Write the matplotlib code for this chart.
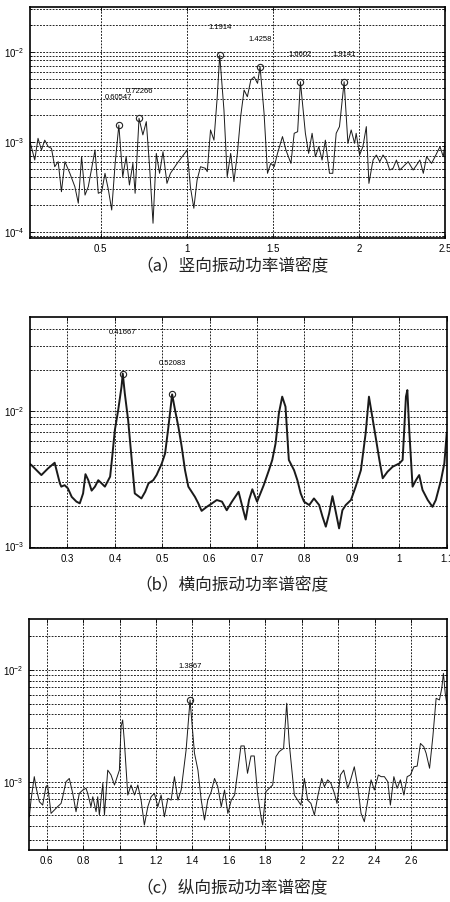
import matplotlib
matplotlib.use("Agg")
import matplotlib.pyplot as plt
from matplotlib.ticker import LogLocator, FixedLocator, NullFormatter, LogFormatterMathtext

plt.rcParams['font.family'] = ['Liberation Sans', 'DejaVu Sans']

# (a) vertical PSD
a_f = [0.0894, 0.117, 0.136, 0.156, 0.175, 0.195, 0.214, 0.233, 0.253, 0.272, 0.292, 0.321,
       0.350, 0.370, 0.389, 0.409, 0.428, 0.467, 0.486, 0.506, 0.525, 0.545, 0.564, 0.584,
       0.60547, 0.628, 0.648, 0.667, 0.687, 0.700, 0.72266, 0.745, 0.765, 0.784, 0.804, 0.823,
       0.842, 0.862, 0.885, 0.905, 0.944, 1.002, 1.021, 1.041, 1.060, 1.080, 1.109, 1.119,
       1.138, 1.158, 1.177, 1.1914, 1.216, 1.235, 1.255, 1.274, 1.294, 1.313, 1.333, 1.352,
       1.372, 1.391, 1.411, 1.4258, 1.449, 1.469, 1.488, 1.508, 1.527, 1.556, 1.576, 1.605,
       1.624, 1.644, 1.6602, 1.689, 1.708, 1.728, 1.747, 1.767, 1.786, 1.805, 1.829, 1.848,
       1.868, 1.887, 1.9141, 1.936, 1.955, 1.975, 1.984, 2.004, 2.023, 2.043, 2.058, 2.082,
       2.101, 2.121, 2.140, 2.160, 2.179, 2.198, 2.218, 2.237, 2.257, 2.286, 2.315, 2.335,
       2.354, 2.374, 2.393, 2.422, 2.442, 2.471, 2.490, 2.50]
a_p = [1.00e-3, 6.25e-4, 1.09e-3, 8.07e-4, 1.04e-3, 8.80e-4, 8.43e-4, 5.27e-4, 6.00e-4, 2.78e-4,
       6.00e-4, 4.45e-4, 3.16e-4, 2.07e-4, 6.81e-4, 2.55e-4, 3.16e-4, 8.07e-4, 2.67e-4, 2.78e-4,
       4.45e-4, 2.90e-4, 1.74e-4, 5.74e-4, 1.53e-3, 4.08e-4, 6.81e-4, 3.30e-4, 5.74e-4, 2.67e-4,
       1.82e-3, 1.19e-3, 1.67e-3, 5.27e-4, 1.24e-4, 7.41e-4, 4.45e-4, 7.74e-4, 3.44e-4, 4.45e-4,
       5.74e-4, 8.07e-4, 3.16e-4, 1.82e-4, 3.75e-4, 5.27e-4, 5.05e-4, 4.64e-4, 1.35e-3, 1.04e-3,
       3.16e-3, 9.18e-3, 2.25e-3, 4.08e-4, 7.41e-4, 3.60e-4, 7.41e-4, 1.90e-3, 3.75e-3, 3.16e-3,
       4.84e-3, 5.27e-3, 4.45e-3, 6.81e-3, 2.07e-3, 4.45e-4, 5.74e-4, 5.27e-4, 7.41e-4, 1.14e-3,
       8.07e-4, 5.74e-4, 1.24e-3, 1.29e-3, 4.64e-3, 1.24e-3, 7.41e-4, 1.24e-3, 6.81e-4, 8.80e-4,
       6.25e-4, 1.04e-3, 4.45e-4, 4.45e-4, 1.24e-3, 1.47e-3, 4.64e-3, 9.58e-4, 1.35e-3, 9.58e-4,
       1.24e-3, 7.11e-4, 8.80e-4, 1.47e-3, 3.44e-4, 6.25e-4, 7.11e-4, 6.00e-4, 7.11e-4, 6.25e-4,
       4.84e-4, 5.05e-4, 6.25e-4, 4.84e-4, 5.27e-4, 6.00e-4, 4.84e-4, 5.50e-4, 6.25e-4, 4.45e-4,
       6.81e-4, 5.74e-4, 6.81e-4, 8.80e-4, 6.81e-4, 9.58e-4]
a_peaks = [0.60547, 0.72266, 1.1914, 1.4258, 1.6602, 1.9141]

# (b) lateral PSD
b_f = [0.221, 0.224, 0.245, 0.259, 0.273, 0.284, 0.287, 0.294, 0.301, 0.309, 0.319, 0.326,
       0.333, 0.338, 0.344, 0.351, 0.358, 0.365, 0.372, 0.379, 0.390, 0.393, 0.400, 0.407,
       0.414, 0.41667, 0.421, 0.428, 0.435, 0.442, 0.456, 0.464, 0.471, 0.481, 0.488, 0.499,
       0.506, 0.513, 0.52083, 0.527, 0.534, 0.541, 0.548, 0.555, 0.562, 0.569, 0.576, 0.583,
       0.594, 0.605, 0.615, 0.626, 0.636, 0.647, 0.661, 0.669, 0.676, 0.683, 0.690, 0.700,
       0.707, 0.714, 0.725, 0.732, 0.739, 0.746, 0.753, 0.760, 0.767, 0.778, 0.785, 0.792,
       0.799, 0.810, 0.820, 0.831, 0.838, 0.845, 0.852, 0.859, 0.866, 0.873, 0.880, 0.887,
       0.898, 0.908, 0.919, 0.929, 0.936, 0.943, 0.950, 0.958, 0.965, 0.975, 0.986, 1.000,
       1.007, 1.010, 1.014, 1.017, 1.021, 1.028, 1.035, 1.042, 1.049, 1.060, 1.070, 1.077,
       1.088, 1.095, 1.100]
b_p = [4.05e-3, 3.98e-3, 3.36e-3, 3.76e-3, 4.14e-3, 2.92e-3, 2.76e-3, 2.83e-3, 2.68e-3, 2.32e-3,
       2.14e-3, 2.08e-3, 2.46e-3, 3.41e-3, 3.08e-3, 2.58e-3, 2.76e-3, 3.08e-3, 2.92e-3, 2.76e-3,
       3.27e-3, 4.09e-3, 7.21e-3, 1.01e-2, 1.50e-2, 1.88e-2, 1.34e-2, 8.53e-3, 4.58e-3, 2.46e-3,
       2.26e-3, 2.53e-3, 2.92e-3, 3.08e-3, 3.36e-3, 4.09e-3, 4.85e-3, 7.62e-3, 1.32e-2, 1.01e-2,
       7.62e-3, 5.43e-3, 3.65e-3, 2.76e-3, 2.53e-3, 2.32e-3, 2.08e-3, 1.83e-3, 1.96e-3, 2.08e-3,
       2.20e-3, 2.14e-3, 1.85e-3, 2.14e-3, 2.53e-3, 1.96e-3, 1.58e-3, 2.20e-3, 2.64e-3, 2.14e-3,
       2.46e-3, 2.83e-3, 3.65e-3, 4.34e-3, 5.74e-3, 9.57e-3, 1.27e-2, 1.07e-2, 4.34e-3, 3.65e-3,
       3.08e-3, 2.46e-3, 2.14e-3, 2.02e-3, 2.26e-3, 2.02e-3, 1.66e-3, 1.40e-3, 1.75e-3, 2.35e-3,
       1.80e-3, 1.36e-3, 1.85e-3, 2.02e-3, 2.20e-3, 2.76e-3, 3.65e-3, 6.81e-3, 1.27e-2, 9.04e-3,
       6.44e-3, 4.34e-3, 3.18e-3, 3.55e-3, 3.87e-3, 4.09e-3, 4.34e-3, 6.81e-3, 1.27e-2, 1.42e-2,
       7.21e-3, 2.76e-3, 3.08e-3, 3.36e-3, 2.61e-3, 2.20e-3, 1.96e-3, 2.20e-3, 3.08e-3, 4.09e-3,
       6.81e-3]
b_peaks = [0.41667, 0.52083]
b_label_scale = [2.0, 1.7]

# (c) longitudinal PSD
c_f = [0.505, 0.514, 0.523, 0.532, 0.541, 0.560, 0.578, 0.596, 0.605, 0.624, 0.642, 0.660,
       0.679, 0.688, 0.706, 0.724, 0.743, 0.761, 0.779, 0.798, 0.816, 0.825, 0.843, 0.853,
       0.871, 0.880, 0.889, 0.908, 0.917, 0.935, 0.953, 0.972, 0.990, 0.999, 1.008, 1.017,
       1.027, 1.045, 1.063, 1.082, 1.100, 1.118, 1.136, 1.155, 1.173, 1.191, 1.210, 1.228,
       1.246, 1.265, 1.283, 1.301, 1.320, 1.338, 1.365, 1.3867, 1.411, 1.430, 1.448, 1.466,
       1.484, 1.503, 1.521, 1.539, 1.558, 1.576, 1.594, 1.613, 1.631, 1.647, 1.666, 1.684,
       1.702, 1.721, 1.739, 1.757, 1.776, 1.785, 1.803, 1.821, 1.840, 1.858, 1.876, 1.900,
       1.917, 1.931, 1.959, 1.977, 1.995, 2.014, 2.032, 2.050, 2.069, 2.087, 2.109, 2.124,
       2.142, 2.160, 2.179, 2.193, 2.212, 2.230, 2.252, 2.270, 2.288, 2.307, 2.325, 2.343,
       2.362, 2.380, 2.398, 2.420, 2.435, 2.453, 2.472, 2.486, 2.505, 2.523, 2.541, 2.560,
       2.578, 2.596, 2.615, 2.633, 2.651, 2.669, 2.682, 2.701, 2.719, 2.737, 2.755, 2.768,
       2.777, 2.787, 2.795]
c_p = [4.86e-4, 6.85e-4, 8.73e-4, 1.11e-3, 9.03e-4, 6.62e-4, 6.18e-4, 9.03e-4, 9.34e-4, 5.21e-4,
       5.58e-4, 5.98e-4, 6.40e-4, 7.34e-4, 1.00e-3, 1.07e-3, 7.87e-4, 5.39e-4, 7.87e-4, 8.43e-4,
       8.73e-4, 7.87e-4, 5.98e-4, 7.34e-4, 5.39e-4, 7.34e-4, 5.03e-4, 9.66e-4, 5.03e-4, 1.27e-3,
       1.15e-3, 9.34e-4, 1.15e-3, 1.27e-3, 3.11e-3, 3.57e-3, 2.20e-3, 7.60e-4, 9.34e-4, 7.60e-4,
       9.34e-4, 6.85e-4, 4.10e-4, 5.98e-4, 7.34e-4, 7.87e-4, 5.98e-4, 7.60e-4, 4.86e-4, 7.10e-4,
       6.85e-4, 1.11e-3, 6.85e-4, 8.43e-4, 1.92e-3, 5.39e-3, 1.80e-3, 1.27e-3, 6.85e-4, 4.54e-4,
       6.85e-4, 8.15e-4, 1.07e-3, 9.03e-4, 5.98e-4, 8.43e-4, 5.21e-4, 6.85e-4, 7.60e-4, 1.19e-3,
       2.09e-3, 2.09e-3, 1.19e-3, 1.70e-3, 1.70e-3, 7.87e-4, 4.86e-4, 4.10e-4, 8.15e-4, 8.73e-4,
       9.34e-4, 1.68e-3, 1.86e-3, 1.99e-3, 5.04e-3, 2.20e-3, 7.60e-4, 6.85e-4, 6.18e-4, 1.07e-3,
       6.85e-4, 6.40e-4, 5.03e-4, 7.34e-4, 1.07e-3, 9.03e-4, 1.04e-3, 9.66e-4, 7.87e-4, 6.40e-4,
       1.15e-3, 1.27e-3, 8.73e-4, 1.07e-3, 1.36e-3, 9.03e-4, 5.21e-4, 4.39e-4, 6.85e-4, 1.04e-3,
       8.43e-4, 1.15e-3, 1.11e-3, 1.11e-3, 1.00e-3, 6.18e-4, 1.11e-3, 8.73e-4, 1.04e-3, 7.60e-4,
       1.11e-3, 1.15e-3, 1.36e-3, 1.38e-3, 2.20e-3, 2.06e-3, 1.80e-3, 1.32e-3, 2.53e-3, 5.58e-3,
       5.39e-3, 6.86e-3, 9.33e-3, 6.18e-3, 5.04e-3]
c_peaks = [1.3867]

a_xticks = [0.5, 1, 1.5, 2, 2.5]
b_xticks = [0.3, 0.4, 0.5, 0.6, 0.7, 0.8, 0.9, 1, 1.1]
c_xticks = [0.6, 0.8, 1, 1.2, 1.4, 1.6, 1.8, 2, 2.2, 2.4, 2.6]

captions = ['（a）竖向振动功率谱密度', '（b）横向振动功率谱密度', '（c）纵向振动功率谱密度']

W, H = 450, 902
fig = plt.figure(figsize=(W / 100, H / 100), dpi=100)


def panel(rect, f, p, peaks, xticks, xlim, ylim, lw, scales=None):
    ax = fig.add_axes([rect[0] / W, 1 - rect[3] / H, (rect[2] - rect[0]) / W, (rect[3] - rect[1]) / H])
    ax.plot(f, p, color='#1a1a1a', lw=lw)
    ax.set_yscale('log')
    ax.set_xlim(*xlim)
    ax.set_ylim(*ylim)
    ax.xaxis.set_major_locator(FixedLocator(xticks))
    ax.xaxis.set_major_formatter(plt.FuncFormatter(lambda v, _: '%g' % v))
    ax.yaxis.set_major_locator(LogLocator(base=10))
    ax.yaxis.set_major_formatter(LogFormatterMathtext())
    ax.yaxis.set_minor_locator(LogLocator(base=10, subs=range(2, 10)))
    ax.yaxis.set_minor_formatter(NullFormatter())
    ax.grid(True, which='major', axis='x', color='k', ls=(0, (2.2, 1.6)), lw=0.6)
    ax.grid(True, which='both', axis='y', color='k', ls=(0, (2.2, 1.6)), lw=0.6)
    ax.tick_params(which='both', direction='in', top=True, right=True, labelsize=7,
                   length=3, width=0.6, pad=4)
    ax.tick_params(which='minor', length=1.5)
    for s in ax.spines.values():
        s.set_linewidth(1.2)
    if scales is None:
        scales = [2.0] * len(peaks)
    for pk, sc in zip(peaks, scales):
        val = p[f.index(pk)]
        ax.plot([pk], [val], 'o', mfc='none', mec='#222222', ms=4.5, mew=0.8)
        ax.text(pk, val * sc, '%.5g' % pk, fontsize=5.5, ha='center', va='center')
    return ax


panel((30, 7, 445, 238), a_f, a_p, a_peaks, a_xticks, (0.0894, 2.5), (8.5e-5, 3.14e-2), 0.7)
panel((30, 317.3, 446.7, 548.3), b_f, b_p, b_peaks, b_xticks, (0.221, 1.1), (9.7e-4, 4.88e-2), 1.4,
      b_label_scale)
panel((29, 619.3, 446.7, 850), c_f, c_p, c_peaks, c_xticks, (0.503, 2.795), (2.45e-4, 2.84e-2), 0.7)

for cap, yc in zip(captions, [267, 586, 889]):
    fig.text(232 / W, 1 - yc / H, cap, ha='center', va='center', fontsize=12,
             family=['Noto Sans CJK SC', 'DejaVu Sans'], color='#222222')

fig.savefig('out.png', dpi=100)
